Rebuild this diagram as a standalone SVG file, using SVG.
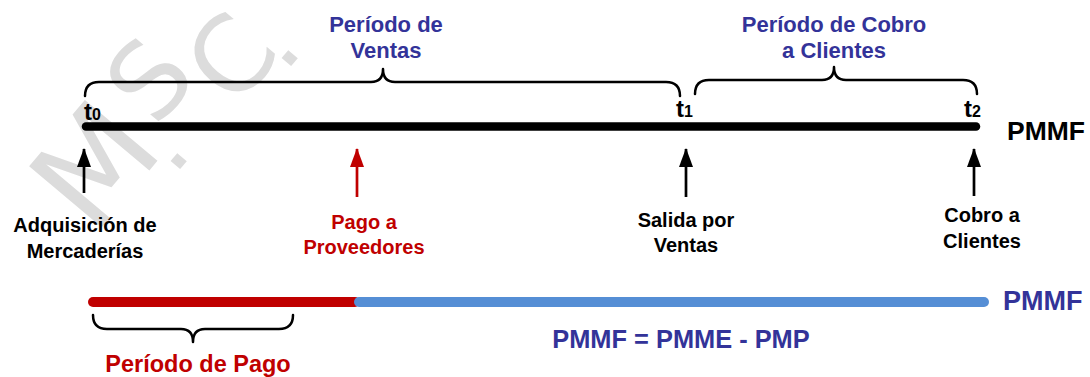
<svg xmlns="http://www.w3.org/2000/svg" width="1090" height="377" viewBox="0 0 1090 377">
<defs>
<style>
.t{font-family:"Liberation Sans",Arial,sans-serif;font-weight:bold;}
.blue{fill:#333399;}
.red{fill:#c00000;}
.blk{fill:#000;}
.brace{fill:none;stroke:#000;stroke-width:2.5;stroke-linecap:round;stroke-linejoin:round;}
.lbl{font-size:20px;text-anchor:middle;}
.big{font-size:22px;text-anchor:middle;}
.wm{font-family:"DejaVu Sans",sans-serif;fill:#dcdcdc;text-anchor:middle;dominant-baseline:central;}
</style>
<marker id="ahB" viewBox="0 0 19 14" refX="18" refY="7" markerWidth="19" markerHeight="14" markerUnits="userSpaceOnUse" orient="auto">
<path d="M0,0 L19,7 L0,14 Z" fill="#000"/>
</marker>
<marker id="ahR" viewBox="0 0 19 14" refX="18" refY="7" markerWidth="19" markerHeight="14" markerUnits="userSpaceOnUse" orient="auto">
<path d="M0,0 L19,7 L0,14 Z" fill="#c00000"/>
</marker>
</defs>
<rect width="1090" height="377" fill="#fff"/>
<g id="watermark">
<text class="wm" transform="translate(95,165) rotate(-50)" font-size="130">M</text>
<text class="wm" transform="translate(157,143) rotate(-50)" font-size="100">.</text>
<text class="wm" transform="translate(150,80) rotate(-50)" font-size="105">S</text>
<text class="wm" transform="translate(232,58) rotate(-50)" font-size="105">C</text>
<text class="wm" transform="translate(268,40) rotate(-50)" font-size="100">.</text>
</g>
<g id="timeline">
<line x1="86" y1="126.5" x2="976" y2="126.5" stroke="#000" stroke-width="8.5" stroke-linecap="round"/>
<text class="t blk" x="84" y="120" font-size="24">t<tspan font-size="16">0</tspan></text>
<text class="t blk" x="676" y="117" font-size="24">t<tspan font-size="16">1</tspan></text>
<text class="t blk" x="964" y="117" font-size="24">t<tspan font-size="16">2</tspan></text>
<text class="t blk" x="1007" y="140" font-size="26.5">PMMF</text>
</g>
<g id="periodo-ventas">
<path class="brace" d="M85,96 Q85,82 99,82 L371,82 Q383,82 383,69 Q383,82 395,82 L666,82 Q680,82 680,96"/>
<text class="t blue big" x="386" y="32">Período de</text>
<text class="t blue big" x="386" y="58">Ventas</text>
</g>
<g id="periodo-cobro">
<path class="brace" d="M695,94 Q695,80 709,80 L822,80 Q834,80 834,67 Q834,80 846,80 L963,80 Q977,80 977,94"/>
<text class="t blue big" x="834" y="32">Período de Cobro</text>
<text class="t blue big" x="834" y="58">a Clientes</text>
</g>
<g id="connectors">
<line x1="84" y1="193" x2="84" y2="149" stroke="#000" stroke-width="2.7" marker-end="url(#ahB)"/>
<line x1="357" y1="197" x2="357" y2="149" stroke="#c00000" stroke-width="2.7" marker-end="url(#ahR)"/>
<line x1="686" y1="197" x2="686" y2="149" stroke="#000" stroke-width="2.7" marker-end="url(#ahB)"/>
<line x1="974" y1="196" x2="974" y2="149" stroke="#000" stroke-width="2.7" marker-end="url(#ahB)"/>
</g>
<g id="adquisicion">
<text class="t blk lbl" x="85" y="232">Adquisición de</text>
<text class="t blk lbl" x="85" y="258">Mercaderías</text>
</g>
<g id="pago">
<text class="t red lbl" x="364" y="229">Pago a</text>
<text class="t red lbl" x="364" y="254">Proveedores</text>
</g>
<g id="salida">
<text class="t blk lbl" x="686" y="227">Salida por</text>
<text class="t blk lbl" x="686" y="252">Ventas</text>
</g>
<g id="cobro">
<text class="t blk lbl" x="982" y="222">Cobro a</text>
<text class="t blk lbl" x="982" y="248">Clientes</text>
</g>
<g id="bar">
<line x1="93" y1="302" x2="355" y2="302" stroke="#c00000" stroke-width="10" stroke-linecap="round"/>
<line x1="359" y1="302" x2="984" y2="302" stroke="#558ed5" stroke-width="10" stroke-linecap="round"/>
<text class="t blue" x="1003" y="310" font-size="27">PMMF</text>
<text class="t blue big" x="681" y="348" style="font-size:25.4px">PMMF = PMME - PMP</text>
</g>
<g id="periodo-pago">
<path class="brace" d="M93,315 Q93,329 107,329 L181,329 Q193,329 193,342 Q193,329 205,329 L279,329 Q293,329 293,315"/>
<text class="t red big" x="198" y="372" style="font-size:23.5px">Período de Pago</text>
</g>
</svg>
